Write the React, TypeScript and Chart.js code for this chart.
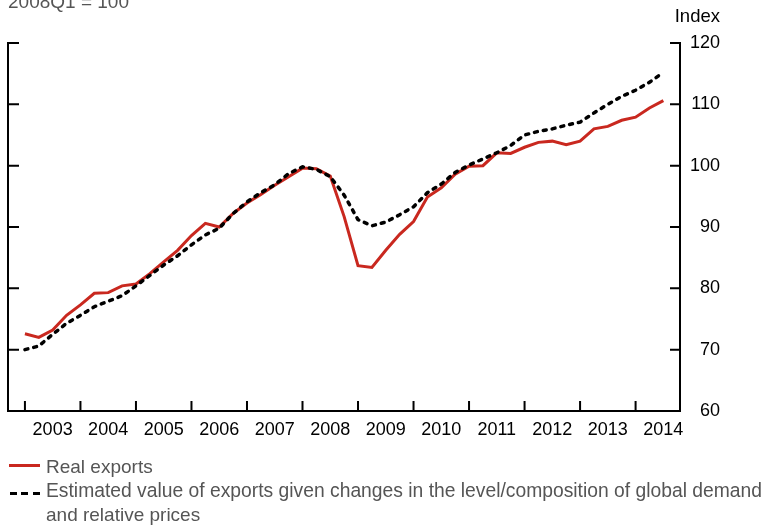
import React, { useEffect, useRef } from "react";
import { Chart, registerables } from "chart.js";

Chart.register(...registerables);

// Quarterly data, 2003Q1 .. 2014Q3 (index 0 = 2003Q1)
const firstYear = 2003;
const yearLabels = ["2003", "2004", "2005", "2006", "2007", "2008", "2009", "2010", "2011", "2012", "2013", "2014"];
const yTicks = [60, 70, 80, 90, 100, 110, 120];

const realExports = [
  72.6, 72.0, 73.2, 75.6, 77.3, 79.2, 79.3, 80.4, 80.7, 82.4,
  84.3, 86.2, 88.6, 90.6, 90.0, 92.2, 93.9, 95.3, 96.8, 98.2,
  99.6, 99.5, 98.3, 91.7, 83.7, 83.4, 86.2, 88.8, 90.9, 94.9,
  96.4, 98.6, 99.9, 100.0, 102.1, 102.0, 103.0, 103.8, 104.0, 103.4,
  104.0, 106.0, 106.4, 107.4, 107.9, 109.4, 110.6,
];

const estimatedExports = [
  70.0, 70.6, 72.5, 74.3, 75.6, 77.0, 77.9, 78.8, 80.4, 82.1,
  83.8, 85.3, 87.1, 88.7, 89.8, 92.2, 94.1, 95.6, 96.9, 98.7,
  99.8, 99.4, 98.2, 95.2, 91.2, 90.2, 90.8, 92.0, 93.3, 95.6,
  97.0, 98.9, 100.1, 101.1, 102.1, 103.3, 105.0, 105.6, 106.0, 106.6,
  107.1, 108.6, 110.0, 111.3, 112.3, 113.6, 115.2,
];

const RED = "#c9281f";
const FONT = "'Liberation Sans', Arial, Helvetica, sans-serif";
const LEGEND_GRAY = "#555555";

const inwardTicks = {
  id: "inwardTicks",
  afterDraw(chart: any) {
    const { ctx, chartArea, scales } = chart;
    const { left, right, bottom, top } = chartArea;
    ctx.save();
    ctx.strokeStyle = "#000";
    ctx.lineWidth = 2;
    ctx.beginPath();
    // left axis line
    ctx.moveTo(left, top - 1);
    ctx.lineTo(left, bottom + 1);
    // y ticks on both sides
    yTicks.forEach((v) => {
      const py = scales.y.getPixelForValue(v);
      ctx.moveTo(left, py);
      ctx.lineTo(left + 11, py);
      ctx.moveTo(right, py);
      ctx.lineTo(right - 10, py);
    });
    // x ticks at year boundaries
    yearLabels.forEach((_, k) => {
      const px = scales.x.getPixelForValue(k * 4);
      ctx.moveTo(px, bottom);
      ctx.lineTo(px, bottom - 10);
    });
    ctx.stroke();
    ctx.restore();
  },
};

export default function App() {
  const canvasRef = useRef<HTMLCanvasElement | null>(null);

  useEffect(() => {
    const canvas = canvasRef.current;
    if (!canvas) return;
    const chart = new Chart(canvas, {
      type: "line",
      data: {
        datasets: [
          {
            label: "Estimated value of exports given changes in the level/composition of global demand and relative prices",
            data: estimatedExports.map((v, i) => ({ x: i, y: v })),
            borderColor: "#000",
            borderWidth: 3.5,
            borderDash: [3, 6],
            borderCapStyle: "round",
            pointRadius: 0,
            tension: 0,
            order: 0,
          },
          {
            label: "Real exports",
            data: realExports.map((v, i) => ({ x: i, y: v })),
            borderColor: RED,
            borderWidth: 3,
            pointRadius: 0,
            tension: 0,
            order: 1,
          },
        ],
      },
      options: {
        animation: false,
        responsive: false,
        maintainAspectRatio: false,
        layout: { padding: { left: 8, top: 43, right: 46, bottom: 0 } },
        plugins: { legend: { display: false }, tooltip: { enabled: false } },
        scales: {
          x: {
            type: "linear",
            position: "bottom",
            min: -1.22,
            max: 47.2,
            afterBuildTicks: (axis: any) => {
              axis.ticks = yearLabels.map((_, k) => ({ value: k * 4 }));
            },
            afterFit: (scale: any) => {
              scale.height = 114;
              scale.paddingLeft = 0;
              scale.paddingRight = 0;
            },
            grid: { drawOnChartArea: false, drawTicks: false },
            border: { display: true, color: "#000", width: 2 },
            ticks: {
              autoSkip: false,
              maxRotation: 0,
              padding: 8,
              color: "#000",
              font: { family: FONT, size: 18 },
              labelOffset: 27.7,
              callback: (v: any) => String(firstYear + Math.round(Number(v) / 4)),
            },
          },
          y: {
            type: "linear",
            position: "right",
            min: 60,
            max: 120,
            afterBuildTicks: (axis: any) => {
              axis.ticks = yTicks.map((v) => ({ value: v }));
            },
            afterFit: (scale: any) => {
              scale.width = 40;
            },
            grid: { drawOnChartArea: false, drawTicks: false },
            border: { display: true, color: "#000", width: 2 },
            ticks: {
              padding: 10,
              crossAlign: "far",
              color: "#000",
              font: { family: FONT, size: 18 },
            },
          },
        },
      },
      plugins: [inwardTicks],
    } as any);
    return () => chart.destroy();
  }, []);

  const textBase: React.CSSProperties = {
    position: "absolute",
    fontFamily: FONT,
    whiteSpace: "nowrap",
    margin: 0,
  };

  return (
    <div style={{ position: "absolute", left: 0, top: 0, width: 766, height: 525, overflow: "hidden", background: "#fff" }}>
      <canvas ref={canvasRef} width={766} height={525} style={{ display: "block", width: 766, height: 525 }} />
      <div style={{ ...textBase, left: 8, top: -8, fontSize: 19, lineHeight: "19px", color: LEGEND_GRAY }}>2008Q1 = 100</div>
      <div style={{ ...textBase, right: 46, top: 6, fontSize: 18.5, lineHeight: "19px", color: "#000" }}>Index</div>
      {/* legend */}
      <div style={{ position: "absolute", left: 9, top: 463.5, width: 31, height: 3, background: RED }} />
      {[0, 1, 2].map((k) => (
        <div key={k} style={{ position: "absolute", left: 9.5 + k * 11.5, top: 491.5, width: 7, height: 3, background: "#000" }} />
      ))}
      <div style={{ ...textBase, left: 46, top: 454.5, fontSize: 19, lineHeight: "24px", color: LEGEND_GRAY }}>Real exports</div>
      <div style={{ ...textBase, left: 46, top: 479, fontSize: 19.3, lineHeight: "24px", color: LEGEND_GRAY }}>
        Estimated value of exports given changes in the level/composition of global demand
      </div>
      <div style={{ ...textBase, left: 46, top: 503, fontSize: 19, lineHeight: "24px", color: LEGEND_GRAY }}>and relative prices</div>
    </div>
  );
}
